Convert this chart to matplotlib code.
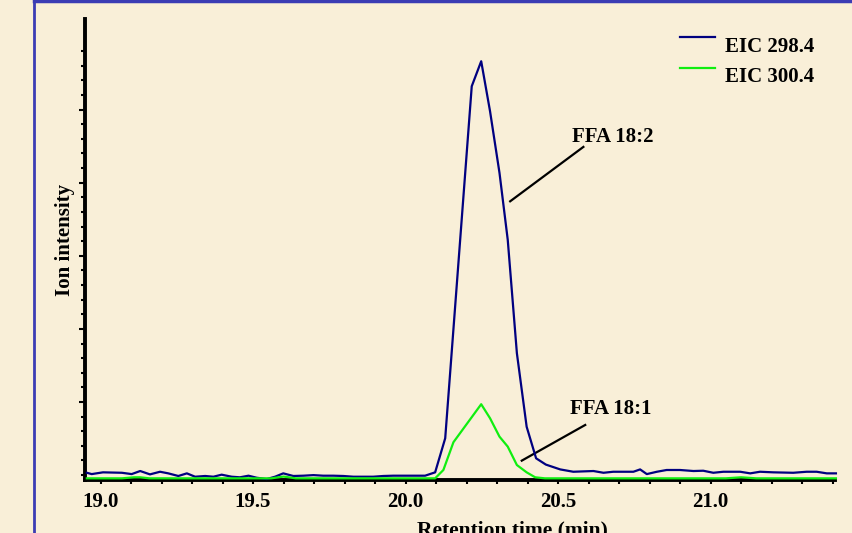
import matplotlib as mpl
mpl.use("Agg")
import matplotlib.pyplot as plt
from matplotlib.lines import Line2D
from matplotlib.ticker import FixedLocator, NullFormatter

# retention time (min) and ion intensity (arbitrary units)
rt_298 = [18.955, 18.971, 19.008, 19.070, 19.102, 19.130, 19.162, 19.195, 19.222, 19.255,
          19.283, 19.310, 19.343, 19.370, 19.397, 19.430, 19.457, 19.485, 19.512, 19.545,
          19.572, 19.599, 19.632, 19.665, 19.698, 19.730, 19.763, 19.796, 19.829, 19.862,
          19.894, 19.927, 19.960, 19.993, 20.026, 20.064, 20.097, 20.130, 20.217, 20.248,
          20.277, 20.308, 20.335, 20.365, 20.397, 20.428, 20.460, 20.507, 20.550, 20.616,
          20.649, 20.681, 20.747, 20.769, 20.791, 20.824, 20.856, 20.900, 20.944, 20.976,
          21.009, 21.042, 21.097, 21.130, 21.162, 21.206, 21.271, 21.315, 21.348, 21.381,
          21.411]
eic_298 = [0.46, 0.37, 0.49, 0.46, 0.37, 0.58, 0.35, 0.53, 0.42, 0.24,
           0.42, 0.19, 0.24, 0.19, 0.33, 0.19, 0.15, 0.26, 0.12, 0.03,
           0.19, 0.42, 0.24, 0.26, 0.30, 0.26, 0.26, 0.24, 0.19, 0.19,
           0.19, 0.24, 0.26, 0.26, 0.26, 0.26, 0.49, 2.82, 26.90, 28.61,
           25.19, 20.97, 16.40, 8.64, 3.61, 1.45, 1.02, 0.69, 0.53, 0.58,
           0.46, 0.53, 0.53, 0.69, 0.37, 0.53, 0.65, 0.65, 0.58, 0.60,
           0.46, 0.53, 0.53, 0.42, 0.53, 0.49, 0.46, 0.53, 0.53, 0.42,
           0.42]

rt_300 = [18.955, 19.070, 19.110, 19.130, 19.160, 19.560, 19.600, 19.640, 20.097, 20.124,
          20.157, 20.248, 20.277, 20.308, 20.335, 20.365, 20.397, 20.425, 20.457, 21.050,
          21.100, 21.150, 21.411]
eic_300 = [0.08, 0.08, 0.15, 0.15, 0.08, 0.08, 0.20, 0.08, 0.08, 0.65,
           2.55, 5.15, 4.19, 2.93, 2.25, 0.99, 0.49, 0.15, 0.08, 0.08,
           0.15, 0.08, 0.08]

x_major = [19.0, 19.5, 20.0, 20.5, 21.0]
x_labels = ["19.0", "19.5", "20.0", "20.5", "21.0"]

BG = "#F9EFD8"
NAVY = "#000080"
LIME = "#10EE10"
FONT = dict(family="Liberation Serif", weight="bold")

fig = plt.figure(figsize=(8.52, 5.33), dpi=100, facecolor=BG)
ax = fig.add_axes([85/852, 1-479.5/533, 750/852, 460.5/533])
ax.set_facecolor("none")

ax.plot(rt_298, eic_298, color=NAVY, lw=1.6, zorder=3, clip_on=False)
ax.plot(rt_300, eic_300, color=LIME, lw=1.6, zorder=4, clip_on=False)

ax.set_xlim(18.949, 21.408)
ax.set_ylim(0, 31.5)
for s in ("top", "right"):
    ax.spines[s].set_visible(False)
for s in ("left", "bottom"):
    ax.spines[s].set_linewidth(2.8)
    ax.spines[s].set_color("black")

ax.set_xticks(x_major)
ax.set_xticklabels(x_labels, fontsize=15, **FONT)
ax.xaxis.set_minor_locator(FixedLocator([19.0 + 0.1*i for i in range(25)]))
ax.tick_params(axis="x", which="both", direction="out", length=3, width=1.5, pad=6)

ax.yaxis.set_major_locator(FixedLocator([0.3 + 5*i for i in range(1, 6)]))
ax.yaxis.set_minor_locator(FixedLocator([0.3 + i for i in range(30)]))
ax.yaxis.set_major_formatter(NullFormatter())
ax.tick_params(axis="y", which="major", direction="out", length=4.5, width=1.5)
ax.tick_params(axis="y", which="minor", direction="out", length=3, width=1.5)

# peak labels
ax.text(20.546, 23.46, "FFA 18:2", ha="left", va="center", fontsize=15, **FONT)
ax.plot([20.343, 20.583], [19.03, 22.75], color="black", lw=1.6)
ax.text(20.539, 4.79, "FFA 18:1", ha="left", va="center", fontsize=15, **FONT)
ax.plot([20.381, 20.589], [1.29, 3.73], color="black", lw=1.6)

# legend drawn by hand: short line sits above its label
for y_line, y_txt, col, lab in [(37.3, 47.3, NAVY, "EIC 298.4"), (67.7, 76.7, LIME, "EIC 300.4")]:
    fig.add_artist(Line2D([680/852, 715/852], [1-y_line/533]*2, color=col, lw=1.6))
    fig.text(725/852, 1-y_txt/533, lab, ha="left", va="center", fontsize=15, **FONT)

fig.text(65/852, 1-240/533, "Ion intensity", rotation=90, ha="center", va="center", fontsize=15, **FONT)
fig.text(512/852, 1-520/533, "Retention time (min)", ha="center", va="top", fontsize=15.5, **FONT)

# blue frame on the left and top
fig.add_artist(Line2D([33.5/852, 33.5/852], [0, 1], color="#3C3CB4", lw=2))
fig.add_artist(Line2D([33.5/852, 1], [1-1/533, 1-1/533], color="#3C3CB4", lw=2.5))

fig.savefig("out.png", dpi=100, facecolor=BG)
